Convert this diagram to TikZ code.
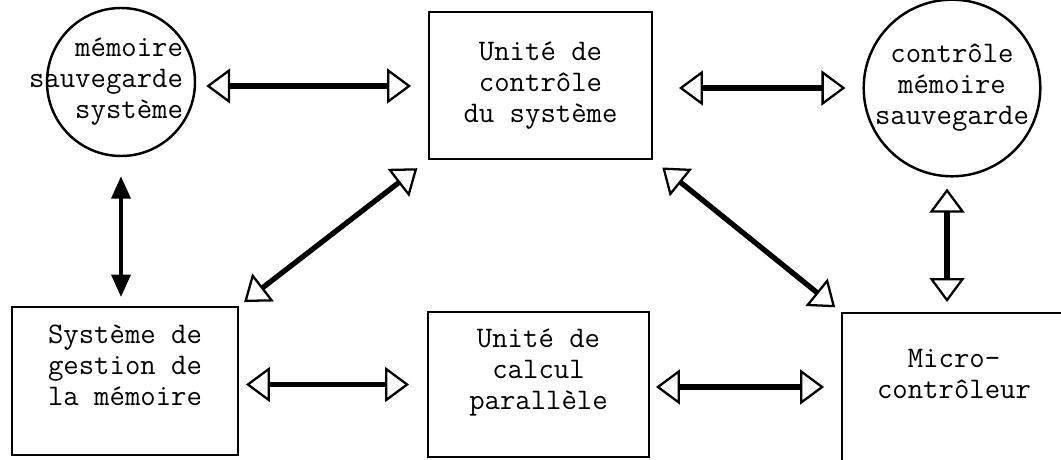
\documentclass[tikz,border=0pt]{standalone}
\usepackage{fontspec}
\usetikzlibrary{arrows.meta}
\begin{document}
\begin{tikzpicture}[
    font=\ttfamily\fontsize{17}{17.6}\selectfont,
    bloc/.style={draw,line width=1.1pt,align=center,inner sep=0pt},
    rond/.style={draw,circle,line width=1.4pt,inner sep=0pt,align=center},
    fleche/.style={line width=3pt,
      {Triangle[open,length=0.48cm,width=0.7cm,line width=1.3pt]}-{Triangle[open,length=0.48cm,width=0.7cm,line width=1.3pt]}},
    flechenoire/.style={line width=2.2pt,
      {Triangle[length=0.45cm,width=0.38cm]}-{Triangle[length=0.45cm,width=0.38cm]}}
  ]
  \useasboundingbox (0,0) rectangle (21.22,9.18);
  \clip (0,0) rectangle (21.22,9.18);
  % ligne du haut
  \node [rond,minimum size=2.96cm,
    label={[align=right,xshift=-0.3cm]center:mémoire\\sauvegarde\\système}]
    (msys) at (2.42,7.54) {};
  \node [bloc,minimum width=4.46cm,minimum height=2.94cm] (ucs) at (10.81,7.47)
    {Unité de\\contrôle\\du système};
  \node [rond,minimum size=2.92cm] (cms) at (19.04,7.42)
    {contrôle\\mémoire\\sauvegarde};
  % ligne du bas
  \node [bloc,minimum width=4.52cm,minimum height=2.96cm] (sgm) at (2.50,1.56)
    {Système de\\gestion de\\la mémoire\\\mbox{}};
  \node [bloc,minimum width=4.42cm,minimum height=2.90cm] (ucp) at (10.77,1.49)
    {Unité de\\calcul\\parallèle\\\mbox{}};
  \node [bloc,minimum width=4.48cm,minimum height=3.06cm] (mc) at (19.08,1.39)
    {Micro-\\contrôleur\\\mbox{}};
  % liaisons
  \draw [fleche,shorten <=0.2cm,shorten >=0.34cm] ([yshift=-0.08cm]msys.east) -- ([yshift=-0.08cm]msys.east -| ucs.west);
  \draw [fleche,shorten <=0.52cm,shorten >=0.34cm] (cms.west -| ucs.east) -- (cms.west);
  \draw [fleche,shorten <=0.14cm,shorten >=0.36cm] (ucp.west -| sgm.east) -- (ucp.west);
  \draw [fleche,shorten <=0.12cm,shorten >=0.34cm] ([yshift=-0.05cm]ucp.east) -- ([yshift=-0.05cm]ucp.east -| mc.west);
  \draw [fleche,shorten <=0.27cm,shorten >=0.13cm] (ucs.south west) -- (sgm.north east);
  \draw [fleche,shorten <=0.24cm,shorten >=0.15cm] (ucs.south east) -- (mc.north west);
  \draw [fleche,shorten <=0.22cm,shorten >=0.2cm] ([xshift=-0.1cm]cms.south) -- ([xshift=-0.1cm]cms.south |- mc.north);
  \draw [flechenoire,shorten <=0.38cm,shorten >=0.18cm] (msys.south) -- (msys.south |- sgm.north);
\end{tikzpicture}
\end{document}
